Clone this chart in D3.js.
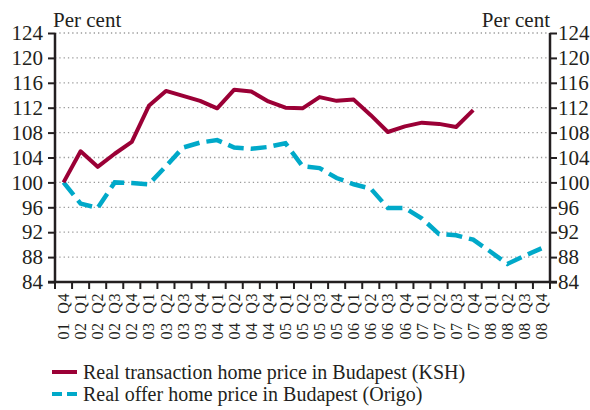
<!DOCTYPE html>
<html>
<head>
<meta charset="utf-8">
<script src="https://cdn.jsdelivr.net/npm/d3@7"></script>
<style>
  html, body { margin: 0; padding: 0; background: #fff; }
  svg { display: block; }
  svg text { font-family: "Liberation Serif", "DejaVu Serif", serif; }
</style>
</head>
<body>
<svg id="chart" width="590" height="410"></svg>
<script>
// Quarters 2001 Q4 – 2008 Q4
const quarters = [
  "01 Q4",
  "02 Q1", "02 Q2", "02 Q3", "02 Q4",
  "03 Q1", "03 Q2", "03 Q3", "03 Q4",
  "04 Q1", "04 Q2", "04 Q3", "04 Q4",
  "05 Q1", "05 Q2", "05 Q3", "05 Q4",
  "06 Q1", "06 Q2", "06 Q3", "06 Q4",
  "07 Q1", "07 Q2", "07 Q3", "07 Q4",
  "08 Q1", "08 Q2", "08 Q3", "08 Q4"
];

// Real transaction home price in Budapest (KSH), 2001 Q4 = 100
const transactionPrice = [
  100.0,
  105.0, 102.5, 104.6, 106.5,
  112.3, 114.7, 113.9, 113.1,
  111.9, 114.9, 114.6, 113.0,
  112.0, 111.9, 113.7, 113.1,
  113.3, 110.8, 108.1, 109.0,
  109.6, 109.4, 108.9, 111.6
];

// Real offer home price in Budapest (Origo), 2001 Q4 = 100
const offerPrice = [
  100.0,
  96.6, 95.9, 100.0, 99.9,
  99.7, 102.6, 105.6, 106.4,
  106.8, 105.6, 105.4, 105.7,
  106.3, 102.6, 102.3, 100.7,
  99.7, 99.0, 95.9, 95.9,
  94.2, 91.7, 91.5, 90.8,
  88.9, 86.9, 88.2, 89.4
];

const yTicks = [84, 88, 92, 96, 100, 104, 108, 112, 116, 120, 124];
const unitLabel = "Per cent";

const seriesNames = [
  "Real transaction home price in Budapest (KSH)",
  "Real offer home price in Budapest (Origo)"
];
const seriesColors = ["#9b0036", "#00a9c9"];

const ink = "#231f20";
const svg = d3.select("#chart");
const plot = { left: 55, right: 550, top: 33, bottom: 282 };

const x = d3.scaleBand().domain(quarters).range([plot.left, plot.right]).padding(0);
const y = d3.scaleLinear().domain([84, 124]).range([plot.bottom, plot.top]);

// Dotted horizontal gridlines
svg.append("g")
  .selectAll("line")
  .data(yTicks.filter(d => d > 84))
  .join("line")
  .attr("x1", plot.left)
  .attr("x2", plot.right)
  .attr("y1", d => y(d))
  .attr("y2", d => y(d))
  .attr("stroke", "#9a9a9a")
  .attr("stroke-width", 1.3)
  .attr("stroke-dasharray", "1.3,3");

// Left value axis
const leftAxis = svg.append("g")
  .attr("transform", `translate(${plot.left},0)`)
  .call(d3.axisLeft(y).tickValues(yTicks).tickSize(7).tickPadding(5).tickFormat(d3.format("d")));

// Right value axis
const rightAxis = svg.append("g")
  .attr("transform", `translate(${plot.right},0)`)
  .call(d3.axisRight(y).tickValues(yTicks).tickSize(7).tickPadding(1).tickFormat(d3.format("d")));

// Bottom category axis: ticks on band boundaries
const bottomAxis = svg.append("g")
  .attr("transform", `translate(0,${plot.bottom})`);
bottomAxis.append("line")
  .attr("x1", plot.left - 7).attr("x2", plot.right + 7)
  .attr("stroke", ink).attr("stroke-width", 2.5);
const boundaries = quarters.map(q => x(q)).concat([plot.right]);
bottomAxis.selectAll("line.tick")
  .data(boundaries)
  .join("line")
  .attr("class", "tick")
  .attr("x1", d => d).attr("x2", d => d)
  .attr("y1", 0).attr("y2", 7)
  .attr("stroke", ink).attr("stroke-width", 2);

bottomAxis.selectAll("text")
  .data(quarters)
  .join("text")
  .attr("transform", d => `translate(${x(d) + x.bandwidth() / 2},11) rotate(-90)`)
  .attr("text-anchor", "end")
  .attr("dy", "0.35em")
  .style("font-size", "16px")
  .style("word-spacing", "4px")
  .style("letter-spacing", "0.6px")
  .attr("fill", ink)
  .text(d => d);

[leftAxis, rightAxis].forEach(g => {
  g.attr("font-family", null).attr("font-size", null);
  g.select(".domain").attr("stroke", ink).attr("stroke-width", 2.5)
    .attr("d", `M0,${plot.bottom}V${plot.top}`);
  g.selectAll(".tick line").attr("stroke", ink).attr("stroke-width", 2);
  g.selectAll(".tick text")
    .style("font-size", "21px")
    .attr("fill", ink);
});

// Unit labels above both axes
svg.append("text")
  .attr("x", plot.left - 2).attr("y", 27)
  .style("font-size", "21px").attr("fill", ink)
  .text(unitLabel);
svg.append("text")
  .attr("x", plot.right).attr("y", 27)
  .attr("text-anchor", "end")
  .style("font-size", "21px").attr("fill", ink)
  .text(unitLabel);

// Series lines
const line = d3.line()
  .x((d, i) => x(quarters[i]) + x.bandwidth() / 2)
  .y(d => y(d));

svg.append("path")
  .datum(offerPrice)
  .attr("fill", "none")
  .attr("stroke", seriesColors[1])
  .attr("stroke-width", 4.5)
  .attr("stroke-dasharray", "16,7")
  .attr("d", line);

svg.append("path")
  .datum(transactionPrice)
  .attr("fill", "none")
  .attr("stroke", seriesColors[0])
  .attr("stroke-width", 4)
  .attr("stroke-linejoin", "round")
  .attr("d", line);

// Legend
const legend = svg.append("g").attr("transform", "translate(52,372)");
seriesNames.forEach((name, i) => {
  const row = legend.append("g").attr("transform", `translate(0,${i * 22})`);
  row.append("line")
    .attr("x1", 0).attr("x2", 25)
    .attr("y1", 0).attr("y2", 0)
    .attr("stroke", seriesColors[i])
    .attr("stroke-width", 4)
    .attr("stroke-dasharray", i === 1 ? "10,5" : null);
  row.append("text")
    .attr("x", 31).attr("y", 7)
    .style("font-size", "20px")
    .attr("fill", ink)
    .text(name);
});
</script>
</body>
</html>
